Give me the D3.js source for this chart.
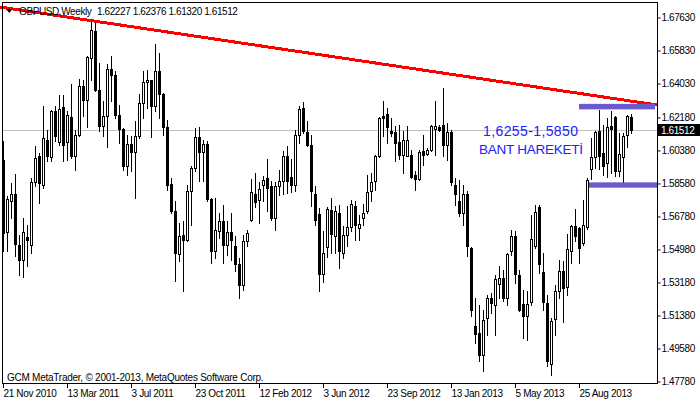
<!DOCTYPE html>
<html><head><meta charset="utf-8">
<script src="https://cdn.jsdelivr.net/npm/d3@7"></script>
<style>
body{margin:0;background:#fff}
svg{display:block}
text{font-family:"Liberation Sans",Arial,sans-serif}
</style>
</head><body>
<svg id="c" width="700" height="402"></svg>
<script>
// ---------------- data ----------------
const symbol = "GBPUSD,Weekly";
const lastQuote = ["1.62227", "1.62376", "1.61320", "1.61512"];
const firstWeek = new Date(2010, 10, 21);

const open = [1.5984,1.5593,1.5760,1.5802,1.5520,1.5439,1.5566,1.5520,1.5866,1.6006,
1.5851,1.6097,1.6000,1.6251,1.6084,1.6275,1.6084,1.6220,1.6006,1.6124,
1.6391,1.6311,1.6542,1.6691,1.6369,1.6169,1.6228,1.6484,1.6448,1.6229,
1.6157,1.5951,1.6073,1.6029,1.6115,1.6297,1.6411,1.6422,1.6279,1.6473,
1.6346,1.6166,1.5857,1.5710,1.5473,1.5575,1.5548,1.5819,1.5942,1.6109,
1.6029,1.6073,1.5774,1.5488,1.5600,1.5655,1.5520,1.5593,1.5519,1.5419,
1.5302,1.5546,1.5660,1.5802,1.5770,1.5848,1.5888,1.5842,1.5670,1.5842,
1.5873,1.6010,1.5893,1.5851,1.6124,1.6269,1.6137,1.6069,1.5800,1.5691,
1.5364,1.5511,1.5711,1.5571,1.5697,1.5479,1.5579,1.5619,1.5737,1.5615,
1.5670,1.5706,1.5815,1.5873,1.6010,1.6228,1.6239,1.6146,1.6137,1.6082,
1.6011,1.6010,1.6015,1.5906,1.5884,1.6033,1.6020,1.6039,1.6157,1.6164,
1.6179,1.6069,1.6137,1.5851,1.5764,1.5697,1.5802,1.5506,1.5079,1.5042,
1.4924,1.5124,1.5233,1.5197,1.5310,1.5342,1.5233,1.5488,1.5573,1.5360,
1.5200,1.5133,1.5211,1.5515,1.5730,1.5375,1.5206,1.4873,1.5119,1.5273,
1.5382,1.5291,1.5488,1.5624,1.5615,1.5533,1.5619,1.5939,1.6002,1.6142,
1.6024,1.5970,1.6173,1.6220,1.5924,1.6004,1.6120,1.62227];

const high = [1.6088,1.5788,1.5860,1.5910,1.5579,1.5670,1.5633,1.5888,1.6060,1.6024,
1.6279,1.6151,1.6260,1.6279,1.6342,1.6342,1.6255,1.6402,1.6151,1.6429,
1.6424,1.6551,1.6751,1.6742,1.6515,1.6306,1.6511,1.6551,1.6469,1.6288,
1.6160,1.6124,1.6115,1.6197,1.6346,1.6469,1.6478,1.6424,1.6618,1.6569,
1.6351,1.6206,1.5888,1.5760,1.5642,1.5651,1.5851,1.5951,1.6160,1.6164,
1.6097,1.6088,1.5779,1.5779,1.5697,1.5742,1.5651,1.5697,1.5570,1.5451,
1.5579,1.5606,1.5882,1.5915,1.5864,1.5897,1.5991,1.5870,1.5864,1.5930,
1.6037,1.6064,1.5989,1.6151,1.6279,1.6302,1.6197,1.6124,1.5842,1.5724,
1.5597,1.5730,1.5779,1.5734,1.5742,1.5624,1.5734,1.5770,1.5760,1.5688,
1.5748,1.5906,1.5915,1.6015,1.6220,1.6306,1.6269,1.6215,1.6169,1.6179,
1.6142,1.6169,1.6040,1.5924,1.6042,1.6124,1.6051,1.6179,1.6306,1.6179,
1.6378,1.6188,1.6151,1.5888,1.5879,1.5851,1.5815,1.5510,1.5233,1.5197,
1.5170,1.5251,1.5260,1.5360,1.5406,1.5388,1.5479,1.5602,1.5600,1.5388,
1.5279,1.5270,1.5688,1.5739,1.5742,1.5479,1.5251,1.5124,1.5306,1.5439,
1.5433,1.5582,1.5633,1.5720,1.5620,1.5770,1.5888,1.6106,1.6146,1.6260,
1.6179,1.6215,1.6255,1.6224,1.6133,1.6133,1.6233,1.62376];

const low = [1.5488,1.5488,1.5670,1.5460,1.5357,1.5346,1.5406,1.5479,1.5842,1.5751,
1.5833,1.5979,1.5979,1.6088,1.6069,1.5979,1.5988,1.5997,1.5934,1.6115,
1.6224,1.6164,1.6424,1.6360,1.6142,1.6115,1.6055,1.6306,1.6215,1.6079,
1.5934,1.5906,1.5924,1.5779,1.6106,1.6215,1.6269,1.6109,1.6251,1.6215,
1.6124,1.5824,1.5697,1.5324,1.5433,1.5270,1.5542,1.5630,1.5924,1.5870,
1.5870,1.5760,1.5424,1.5451,1.5560,1.5424,1.5470,1.5442,1.5379,1.5233,
1.5279,1.5515,1.5651,1.5728,1.5642,1.5760,1.5706,1.5660,1.5602,1.5797,
1.5802,1.5806,1.5811,1.5815,1.6079,1.6133,1.6060,1.5734,1.5630,1.5270,
1.5320,1.5457,1.5479,1.5479,1.5397,1.5451,1.5515,1.5597,1.5551,1.5551,
1.5633,1.5697,1.5760,1.5824,1.6000,1.6115,1.6079,1.6115,1.5979,1.5993,
1.5915,1.6006,1.5888,1.5824,1.5879,1.5960,1.6011,1.6033,1.6015,1.6146,
1.6006,1.5988,1.5851,1.5742,1.5679,1.5633,1.5460,1.5133,1.4988,1.4888,
1.4833,1.5033,1.5151,1.5033,1.5233,1.5215,1.5197,1.5470,1.5315,1.5160,
1.5015,1.5006,1.5197,1.5506,1.5368,1.5170,1.4860,1.4811,1.5033,1.5233,
1.5102,1.5251,1.5424,1.5542,1.5424,1.5524,1.5611,1.5884,1.5942,1.5939,
1.5906,1.5891,1.5915,1.5900,1.5897,1.5851,1.6057,1.61320];

const close = [1.5588,1.5775,1.5802,1.5528,1.5439,1.5593,1.5548,1.5866,1.5997,1.5860,
1.6106,1.6006,1.6251,1.6115,1.6266,1.6069,1.6233,1.6006,1.6124,1.6391,
1.6311,1.6548,1.6697,1.6366,1.6169,1.6228,1.6484,1.6448,1.6229,1.6157,
1.5951,1.6073,1.6029,1.6115,1.6297,1.6411,1.6422,1.6279,1.6473,1.6346,
1.6166,1.5851,1.5706,1.5479,1.5573,1.5548,1.5819,1.5942,1.6109,1.6029,
1.6073,1.5774,1.5488,1.5604,1.5655,1.5520,1.5593,1.5548,1.5419,1.5302,
1.5546,1.5588,1.5811,1.5755,1.5830,1.5879,1.5833,1.5670,1.5842,1.5873,
1.6010,1.5870,1.5851,1.6124,1.6266,1.6142,1.6066,1.5815,1.5660,1.5364,
1.5477,1.5719,1.5582,1.5706,1.5488,1.5579,1.5620,1.5746,1.5630,1.5639,
1.5697,1.5811,1.5866,1.6010,1.6215,1.6215,1.6164,1.6133,1.6079,1.6011,
1.6097,1.6093,1.5891,1.5882,1.6029,1.6011,1.6039,1.6169,1.6169,1.6151,
1.6069,1.6137,1.5864,1.5800,1.5697,1.5800,1.5515,1.5170,1.5037,1.4924,
1.5115,1.5233,1.5206,1.5339,1.5342,1.5233,1.5473,1.5573,1.5364,1.5170,
1.5133,1.5200,1.5555,1.5702,1.5420,1.5211,1.4888,1.5110,1.5273,1.5379,
1.5288,1.5500,1.5628,1.5570,1.5506,1.5633,1.5879,1.6002,1.6139,1.6006,
1.5951,1.6166,1.6157,1.5924,1.6019,1.6119,1.6224,1.61512];

const priceTicks = [1.67630,1.65830,1.64030,1.62180,1.60380,1.58580,1.56780,1.54980,1.53180,1.51380,1.49580,1.47780];
const dateTicks = ["2010-11-21","2011-03-13","2011-07-03","2011-10-23","2012-02-12","2012-06-03","2012-09-23","2013-01-13","2013-05-05","2013-08-25"];
const trendBars = [-0.75, 163.5];
const trendPrices = [1.6820, 1.6286];
const bandFrom = [144, 146.5];
const bandTo = [163, 163.5];
const bandTop = [1.6292, 1.5864];
const bandBottom = [1.6262, 1.5835];
const noteLines = ["1,6255-1,5850", "BANT HAREKETİ"];
const copyright = "GCM MetaTrader, \u00A9 2001-2013, MetaQuotes Software Corp.";

// ---------------- chart ----------------
const svg = d3.select("#c");
const L = 2.5, T = 2.5, R = 657.5, B = 383.5;

const x = d3.scaleLinear().domain([0, 157]).range([3, 631]);
const y = d3.scaleLinear().domain([1.4778, 1.6763]).range([381.5, 17.5]);
const parse = d3.timeParse("%Y-%m-%d");
const fmt = d3.timeFormat("%-d %b %Y");

svg.append("defs").append("clipPath").attr("id", "clip")
  .append("rect").attr("x", L).attr("y", T).attr("width", R - L).attr("height", B - T);

// bid line
const lastClose = close[close.length - 1];
const by = Math.round(y(lastClose)) + 0.5;
svg.append("line").attr("x1", L).attr("x2", R).attr("y1", by).attr("y2", by)
  .attr("stroke", "#c0c0c0").attr("stroke-width", 1).attr("shape-rendering", "crispEdges");

// candles
const bars = open.map((o, i) => ({ i, o, h: high[i], l: low[i], c: close[i] }));
const cg = svg.append("g").attr("clip-path", "url(#clip)").attr("shape-rendering", "crispEdges");
cg.selectAll("line.wick").data(bars).join("line").attr("class", "wick")
  .attr("x1", d => Math.round(x(d.i)) + 0.5).attr("x2", d => Math.round(x(d.i)) + 0.5)
  .attr("y1", d => Math.round(y(d.h))).attr("y2", d => Math.round(y(d.l)) + 1)
  .attr("stroke", "#000").attr("stroke-width", 1);
cg.selectAll("rect.body").data(bars).join("rect").attr("class", "body")
  .attr("x", d => Math.round(x(d.i)) - 0.5)
  .attr("y", d => Math.round(y(Math.max(d.o, d.c))) + 0.5)
  .attr("width", 2)
  .attr("height", d => Math.max(0.01, Math.round(y(Math.min(d.o, d.c))) - Math.round(y(Math.max(d.o, d.c)))))
  .attr("fill", d => d.c >= d.o ? "#fff" : "#000")
  .attr("stroke", "#000").attr("stroke-width", 1);

// trend line
svg.append("path")
  .datum(trendBars.map((b, k) => [b, trendPrices[k]]))
  .attr("d", d3.line().x(d => x(d[0])).y(d => y(d[1])))
  .attr("fill", "none").attr("stroke", "#ff0000").attr("stroke-width", 3)
  .attr("shape-rendering", "crispEdges");

// bands
svg.selectAll("rect.band").data(bandFrom.map((f, k) => k)).join("rect").attr("class", "band")
  .attr("x", k => x(bandFrom[k])).attr("width", k => x(bandTo[k]) - x(bandFrom[k]))
  .attr("y", k => y(bandTop[k])).attr("height", k => y(bandBottom[k]) - y(bandTop[k]))
  .attr("fill", "#6a5acd");

// note text
svg.append("text").attr("x", 483).attr("y", 135.5).attr("font-size", 14)
  .attr("textLength", 95).attr("lengthAdjust", "spacing")
  .attr("fill", "#2020ff").text(noteLines[0]);
svg.append("text").attr("x", 479).attr("y", 153.5).attr("font-size", 13.5)
  .attr("textLength", 104).attr("lengthAdjust", "spacing")
  .attr("fill", "#2020ff").text(noteLines[1]);

// frame
svg.append("rect").attr("x", L).attr("y", T).attr("width", R - L).attr("height", B - T)
  .attr("fill", "none").attr("stroke", "#000").attr("shape-rendering", "crispEdges");

// price axis
const ya = svg.append("g").attr("transform", `translate(${R},0)`)
  .call(d3.axisRight(y).tickValues(priceTicks).tickSize(3).tickPadding(1).tickFormat(d3.format(".5f")));
ya.select(".domain").remove();
ya.selectAll("text").attr("font-size", 10).attr("letter-spacing", -0.4).attr("fill", "#000")
  .style("font-family", '"Liberation Sans",Arial,sans-serif');
ya.selectAll("line").attr("stroke", "#000");

// time axis
const tickIdx = dateTicks.map(s => d3.timeWeek.count(firstWeek, parse(s)));
const xa = svg.append("g").attr("transform", `translate(0,${B - 0.5})`)
  .call(d3.axisBottom(x).tickValues(tickIdx).tickSize(5).tickPadding(2)
    .tickFormat((d, k) => fmt(parse(dateTicks[k]))));
xa.select(".domain").remove();
xa.selectAll("text").attr("text-anchor", "start").attr("x", 0).attr("font-size", 10)
  .attr("letter-spacing", -0.35).attr("fill", "#000")
  .style("font-family", '"Liberation Sans",Arial,sans-serif');
xa.selectAll("line").attr("stroke", "#000");

// bid label
svg.append("rect").attr("x", 658).attr("y", by - 6.5).attr("width", 42).attr("height", 12).attr("fill", "#000");
svg.append("text").attr("x", 661).attr("y", by).attr("dy", "0.34em").attr("font-size", 10)
  .attr("letter-spacing", -0.4).attr("fill", "#fff").text(d3.format(".5f")(lastClose));

// header
svg.append("path").attr("d", "M6,9L12.5,9L9.25,13Z").attr("fill", "#000");
svg.append("text").attr("x", 19).attr("y", 14.5).attr("font-size", 10).attr("letter-spacing", -0.4)
  .attr("fill", "#000").text(symbol);
svg.append("text").attr("x", 97).attr("y", 14.5).attr("font-size", 10).attr("letter-spacing", -0.4)
  .attr("fill", "#000").text(lastQuote.join(" "));

// copyright
svg.append("text").attr("x", 7).attr("y", 380.5).attr("font-size", 10).attr("letter-spacing", -0.25)
  .attr("fill", "#000").text(copyright);
</script>
</body></html>
